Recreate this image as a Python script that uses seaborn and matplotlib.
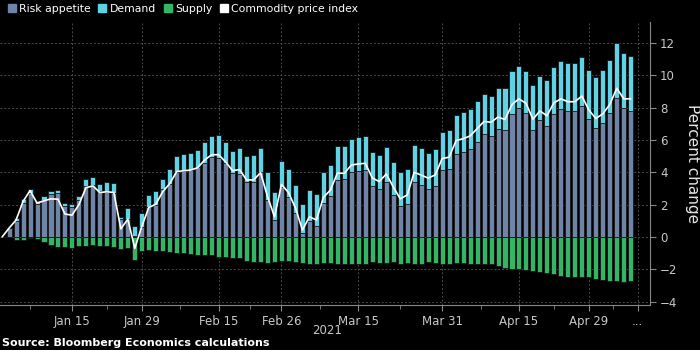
import matplotlib.pyplot as plt
import seaborn as sns
import pandas as pd
import numpy as np
from matplotlib.patches import Patch

# weekday series, Jan 1 2021 -> May 7 2021
days = pd.bdate_range("2021-01-01", "2021-05-07")

risk = [0, 0.55, 0.97, 2.13, 2.75, 2.03, 2.28, 2.69, 2.71, 1.93, 1.85,
        2.26, 3.18, 3.22, 2.85, 2.81,
        2.75, 1.13, 1.11, 0.04, 0.62,
        1.85, 2.00, 2.96, 3.29, 4.05,
        4.09, 4.15, 4.35, 4.60, 4.93,
        4.90, 4.56, 3.94, 3.88, 3.39,
        3.39, 4.05, 2.30, 1.07, 3.12,
        2.46, 1.48, 0.25, 0.97, 0.70,
        2.09, 2.55, 3.53, 3.57, 4.05,
        4.09, 4.15, 3.18, 2.98, 3.43,
        2.57, 1.89, 2.05, 3.43, 3.22,
        2.96, 3.16, 4.15, 4.21, 5.15,
        5.25, 5.42, 5.85, 6.38, 6.27,
        6.69, 6.63, 7.58, 7.96, 7.65,
        6.65, 7.24, 6.89, 7.60, 7.95,
        7.81, 7.77, 8.12, 7.29, 6.72,
        7.04, 7.66, 8.60, 7.97, 7.81]

demand = [0, 0.0, 0.20, 0.23, 0.23, 0.17, 0.27, 0.18, 0.21, 0.16, 0.20,
          0.29, 0.41, 0.48, 0.41, 0.58,
          0.62, 0.10, 0.68, 0.66, 0.86,
          0.75, 0.85, 0.63, 0.90, 0.98,
          1.04, 1.02, 1.01, 1.27, 1.31,
          1.38, 1.29, 1.40, 1.60, 1.64,
          1.66, 1.47, 1.75, 1.72, 1.56,
          1.73, 1.76, 1.80, 1.95, 1.97,
          1.96, 1.91, 2.10, 2.06, 2.03,
          2.07, 2.09, 2.06, 2.09, 2.11,
          2.09, 2.16, 2.16, 2.24, 2.26,
          2.26, 2.30, 2.35, 2.39, 2.39,
          2.46, 2.48, 2.57, 2.45, 2.48,
          2.52, 2.58, 2.67, 2.60, 2.64,
          2.73, 2.75, 2.82, 2.92, 2.97,
          2.98, 3.02, 3.03, 3.06, 3.20,
          3.29, 3.30, 3.38, 3.39, 3.42]

supply = [0, -0.02, -0.16, -0.16, -0.08, -0.12, -0.33, -0.51, -0.62, -0.62, -0.68,
          -0.53, -0.53, -0.47, -0.57, -0.57,
          -0.62, -0.74, -0.68, -1.44, -0.84,
          -0.82, -0.84, -0.88, -0.92, -0.99,
          -0.99, -1.03, -1.09, -1.09, -1.13,
          -1.23, -1.23, -1.29, -1.33, -1.50,
          -1.54, -1.56, -1.60, -1.56, -1.46,
          -1.50, -1.56, -1.64, -1.66, -1.66,
          -1.64, -1.64, -1.66, -1.70, -1.66,
          -1.66, -1.66, -1.56, -1.64, -1.60,
          -1.56, -1.70, -1.60, -1.66, -1.66,
          -1.56, -1.64, -1.65, -1.67, -1.58,
          -1.63, -1.67, -1.69, -1.69, -1.67,
          -1.79, -1.94, -2.00, -2.00, -2.04,
          -2.10, -2.19, -2.25, -2.32, -2.40,
          -2.46, -2.46, -2.46, -2.50, -2.61,
          -2.67, -2.74, -2.74, -2.78, -2.74]

price_index = [0, 0.55, 1.05, 2.20, 2.87, 2.10, 2.24, 2.36, 2.34, 1.42, 1.35,
               2.00, 3.05, 3.16, 2.75, 2.80,
               2.75, 0.50, 1.10, -0.70, 0.65,
               1.82, 2.03, 2.80, 3.30, 4.05,
               4.10, 4.14, 4.29, 4.76, 5.09,
               5.09, 4.65, 4.10, 4.17, 3.53,
               3.53, 3.98, 2.50, 1.25, 3.25,
               2.75, 1.80, 0.43, 1.25, 1.05,
               2.45, 2.90, 3.95, 3.94, 4.45,
               4.52, 4.56, 3.65, 3.43, 3.90,
               3.10, 2.36, 2.60, 4.00, 3.83,
               3.64, 3.84, 4.85, 4.94, 5.97,
               6.08, 6.25, 6.70, 7.15, 7.10,
               7.42, 7.27, 8.20, 8.55, 8.27,
               7.29, 7.80, 7.50, 8.30, 8.55,
               8.37, 8.37, 8.72, 7.86, 7.33,
               7.62, 8.20, 9.20, 8.55, 8.55]

tick_dates = ["2021-01-15", "2021-01-29", "2021-02-15", "2021-02-26", "2021-03-15",
              "2021-03-31", "2021-04-15", "2021-04-29", "2021-05-10"]
tick_labels = ["Jan 15", "Jan 29", "Feb 15", "Feb 26", "Mar 15",
               "Mar 31", "Apr 15", "Apr 29", "..."]

c_risk = "#7084a8"
c_demand = "#5fd3e5"
c_supply = "#33b566"
bg = "black"
txt = "#c8c8c8"

sns.set_style("dark")
plt.rcParams["font.family"] = ["DejaVu Sans"]

df = pd.DataFrame({"day": days, "risk": risk, "demand": demand,
                   "supply": supply, "index": price_index})
df["pos"] = np.arange(len(df))
df["top"] = df["risk"] + df["demand"]

fig = plt.figure(figsize=(7, 3.5), dpi=100, facecolor=bg)
ax = fig.add_axes([0.0, 0.129, 0.929, 0.808])
ax.set_facecolor(bg)

bar_kw = dict(native_scale=True, width=0.72, saturation=1, errorbar=None,
              edgecolor="#151515", linewidth=0.6, ax=ax)
sns.barplot(data=df, x="pos", y="top", color=c_demand, **bar_kw)
sns.barplot(data=df, x="pos", y="risk", color=c_risk, **bar_kw)
sns.barplot(data=df, x="pos", y="supply", color=c_supply, **bar_kw)
sns.lineplot(data=df, x="pos", y="index", color="white", linewidth=1.2, ax=ax)

# axes / ticks
all_days = pd.bdate_range("2021-01-01", "2021-05-10")
major = all_days.get_indexer(pd.to_datetime(tick_dates))
minor = (major[:-1] + major[1:]) / 2
minor = np.concatenate([[4], minor])

ax.set_xlim(-0.3, 92.8)
ax.set_ylim(-4.2, 13.3)
ax.set_xticks(major)
ax.set_xticklabels(tick_labels)
ax.set_xticks(minor, minor=True)
ax.set_yticks(range(-4, 13, 2))
ax.yaxis.tick_right()
ax.yaxis.set_label_position("right")
ax.set_xlabel("")
ax.set_ylabel("Percent change", rotation=-90, color="#e6e6e6", fontsize=11, labelpad=16)

ax.tick_params(axis="x", which="major", length=4, color="#888888", labelcolor=txt,
               labelsize=8.5, pad=3, bottom=True)
ax.tick_params(axis="x", which="minor", length=3, color="#888888", bottom=True)
ax.tick_params(axis="y", length=4, color="#888888", labelcolor=txt, labelsize=8.5,
               right=True, left=False, pad=3)

ax.grid(True, which="major", color="#4a4a4a", linestyle=(0, (2, 2)), linewidth=0.7)
ax.set_axisbelow(True)
for s in ["left", "top"]:
    ax.spines[s].set_visible(False)
for s in ["right", "bottom"]:
    ax.spines[s].set_visible(True)
    ax.spines[s].set_color("#888888")
    ax.spines[s].set_linewidth(0.8)

fig.text(0.467, 0.057, "2021", ha="center", va="center", color=txt, fontsize=8.5)
fig.text(0.003, 0.02, "Source: Bloomberg Economics calculations", ha="left", va="center",
         color="white", fontsize=8, fontweight="bold")

handles = [Patch(color=c_risk), Patch(color=c_demand), Patch(color=c_supply),
           Patch(color="white")]
labels = ["Risk appetite", "Demand", "Supply", "Commodity price index"]
leg = fig.legend(handles, labels, loc="upper left", bbox_to_anchor=(0.0, 1.01), ncol=4,
                 frameon=False, fontsize=7.8, handlelength=0.75, handleheight=0.75,
                 handletextpad=0.3, columnspacing=0.7, borderaxespad=0.3)
for t in leg.get_texts():
    t.set_color("white")

fig.savefig("out.png", dpi=100, facecolor=bg)
